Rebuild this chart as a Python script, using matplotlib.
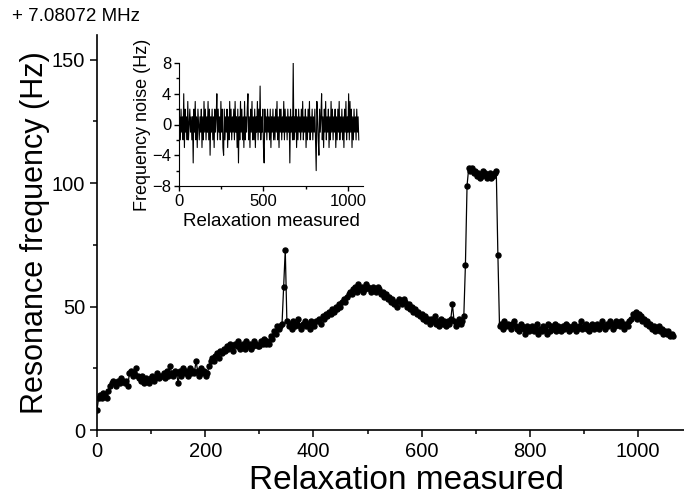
import numpy as np
import matplotlib
matplotlib.use("Agg")
import matplotlib.pyplot as plt
from matplotlib.ticker import MultipleLocator

plt.rcParams['font.family'] = ['Liberation Sans', 'DejaVu Sans']

# main series: one reading every 3 relaxations, in Hz above 7.08072 MHz
step_main = 3
freq_hz = [
    8, 13, 14, 13, 15, 14, 13, 16,
    18, 19, 20, 19, 18, 20, 19, 21, 20, 19, 20, 18,
    23, 24, 22, 23, 25, 22, 21, 20, 22, 19, 21, 20, 19, 21, 22, 20, 21, 23, 21, 22,
    22, 23, 21, 24, 22, 26, 23, 22, 24, 23, 19, 24, 22, 25, 23, 24, 22, 25, 23, 24,
    23, 28, 24, 22, 25, 23, 24, 22, 23, 26, 28, 29, 28, 30, 31, 29, 32, 31, 33, 32,
    34, 33, 35, 34, 32, 35, 34, 36, 33, 34, 35, 33, 36, 34, 35, 33, 34, 36, 35, 34,
    34, 36, 35, 37, 35, 36, 35, 38, 37,
    40, 39, 42, 41, 42, 43,
    58, 73,
    44, 42, 43, 41, 44, 42, 43, 45, 42, 41, 43, 44, 42, 43, 41, 44, 43, 42, 44,
    44, 45, 43, 46, 45, 47, 46, 48, 47, 49, 48, 50, 49, 51, 50, 52, 53, 52, 54, 55,
    56, 55, 57, 58, 56, 59, 57, 58, 56, 57, 59, 58, 57, 56, 58, 57, 56, 58, 57, 55,
    56, 54, 55, 53, 54, 52, 53, 51, 52, 50, 53, 52, 51, 53, 52, 50, 51, 49, 50, 48,
    49, 47, 48, 46, 47, 45, 46, 44, 45, 43, 45, 44, 46, 43, 44, 42, 45, 43, 44, 42,
    44, 43, 45, 51, 44, 42, 43, 45, 43, 44, 46,
    67, 99,
    106, 105, 106, 104, 105, 103, 104, 102, 103, 105, 104, 102, 103, 104, 102, 103, 104, 105,
    71,
    42, 43, 41, 44, 42, 43, 42, 41, 43, 44, 42, 41, 40, 43, 42, 41, 39, 42, 40, 41,
    42, 40, 41, 43, 39, 41, 40, 42, 41, 39, 43, 40, 42, 41, 43, 40, 42, 41, 40, 42,
    41, 43, 42, 40, 41, 42, 43, 40, 41, 42, 44, 41, 42, 43, 41, 40, 42, 43, 41, 42,
    43, 41, 42, 44, 42, 41, 43, 42, 44, 43, 41, 42, 44, 43, 42, 44, 43, 41, 43, 42,
    44, 45, 47, 46, 48, 45, 47, 46, 44, 45, 43, 44, 42, 43, 41, 42, 40, 41, 42, 40,
    41, 39, 40, 39, 40, 38, 39, 38,
]

# inset: frequency noise, one value every 4 relaxations
step_noise = 4
noise_hz = [
    0, 1, -2, 2, -1, 1, -2, 4, -3, 2, -1, 1, -2, 3, -2, 0, 2, -1, 1, -2,
    1, -5, 2, -1, 3, -2, 1, -3, 2, 0, -2, 1, -1, 2, -3, 1, -2, 3, -1, 2,
    -2, 1, -1, 3, -2, 2, -4, 1, -1, 2, -2, 1, -3, 2, -1, 1, 4, -2, 2, -1,
    1, -2, 3, -1, 2, -3, -4, 2, -2, 1, -1, 2, -3, 1, -2, 3, -1, 2, -2, 1,
    -1, 2, -2, 3, -1, 1, -3, 2, -5, 1, -2, 3, -1, 2, -2, 1, -3, 3, -2, 1,
    -1, 2, 4, -2, 1, -3, 2, -1, 3, -2, 1, -2, 2, -3, 1, -1, 3, -2, 2, -1,
    5, -2, 1, -1, 2, -3, -5, 2, -1, 1, -2, 2, -1, 1, -2, 2, -3, 1, -1, 2,
    -2, 1, -2, 2, -1, 3, -2, 1, -3, 2, -1, 2, -2, 1, -1, 3, -2, 2, -1, 1,
    -2, 2, -1, 1, -5, 2, -1, 1, -2, 8, -2, 1, -1, 2, -3, 1, -2, 2, -1, 1,
    -2, 2, -1, 3, -2, 1, -1, 2, -3, 1, -2, 2, -1, 3, -2, 1, -1, 2, -2, 1,
    -1, 2, -2, -6, 3, 1, -2, -4, 2, -1, 1, 4, -2, 1, -3, 2, -1, 3, -2, 1,
    -1, 2, -3, 1, -2, 3, -1, 2, -2, 1, -1, 2, -3, 1, -2, 2, -1, 3, -2, 1,
    -1, 2, -2, 1, -3, 2, -1, 3, -2, 1, -1, 4, -2, 3, -1, 2, -3, 1, -2, 2,
    -1, 1, -2, 2, -1, 1, -2,
]

x_main = np.arange(len(freq_hz)) * step_main
x_noise = np.arange(len(noise_hz)) * step_noise

fig = plt.figure(figsize=(6.84, 5.0), dpi=100)

ax = fig.add_axes([0.1418, 0.14, 0.8582, 0.79])
ax.plot(x_main, freq_hz, '-o', color='black', lw=0.9, ms=3.6)
ax.set_xlim(0, 1085)
ax.set_ylim(0, 160)
ax.xaxis.set_major_locator(MultipleLocator(200))
ax.xaxis.set_minor_locator(MultipleLocator(100))
ax.yaxis.set_major_locator(MultipleLocator(50))
ax.yaxis.set_minor_locator(MultipleLocator(25))
for s in ['top', 'right']:
    ax.spines[s].set_visible(False)
for s in ['left', 'bottom']:
    ax.spines[s].set_linewidth(1.2)
ax.tick_params(which='major', direction='out', length=5, width=1.1, labelsize=14.5)
ax.tick_params(which='minor', direction='out', length=3, width=1.1)
ax.set_xlabel('Relaxation measured', fontsize=24, labelpad=3, x=0.528)
ax.set_ylabel('Resonance frequency (Hz)', fontsize=22, labelpad=1)
fig.text(0.018, 0.967, '+ 7.08072 MHz', fontsize=13.5, va='center', ha='left')

ins = fig.add_axes([0.2617, 0.628, 0.269, 0.246])
ins.plot(x_noise, noise_hz, color='black', lw=0.8)
ins.set_xlim(0, 1089)
ins.set_ylim(-8, 8)
ins.xaxis.set_major_locator(MultipleLocator(500))
ins.xaxis.set_minor_locator(MultipleLocator(250))
ins.yaxis.set_major_locator(MultipleLocator(4))
ins.yaxis.set_minor_locator(MultipleLocator(2))
for s in ['top', 'right']:
    ins.spines[s].set_visible(False)
ins.tick_params(which='major', direction='out', length=3.5, width=1, labelsize=12, pad=2)
ins.tick_params(which='minor', direction='out', length=2, width=1)
ins.set_xlabel('Relaxation measured', fontsize=13.5, labelpad=3)
ins.set_ylabel('Frequency noise (Hz)', fontsize=13, labelpad=1)

fig.savefig('out.png', dpi=100)
